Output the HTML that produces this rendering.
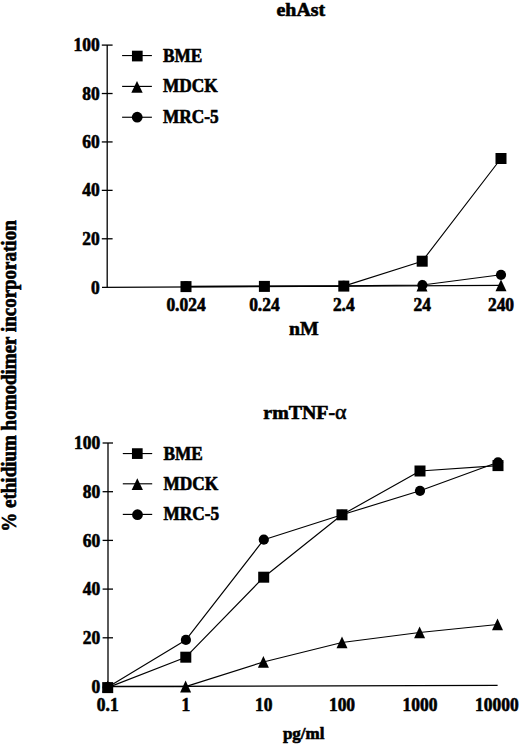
<!DOCTYPE html>
<html><head><meta charset="utf-8"><style>
html,body{margin:0;padding:0;background:#fff;}
body{width:520px;height:744px;overflow:hidden;}
svg{display:block;}
text{font-family:"Liberation Serif",serif;font-weight:bold;fill:#000;stroke:#000;stroke-width:0.6px;}
</style></head><body>
<svg width="520" height="744" viewBox="0 0 520 744">
<line x1="107.2" y1="45.1" x2="107.2" y2="287.7" stroke="#000" stroke-width="1.3"/>
<line x1="101.8" y1="45.1" x2="112.6" y2="45.1" stroke="#000" stroke-width="1.3"/>
<text x="0" y="0" font-size="17.9" text-anchor="end" transform="translate(99.6,51.2) scale(0.975,1)">100</text>
<line x1="101.8" y1="93.52" x2="112.6" y2="93.52" stroke="#000" stroke-width="1.3"/>
<text x="0" y="0" font-size="17.9" text-anchor="end" transform="translate(99.6,99.62) scale(0.975,1)">80</text>
<line x1="101.8" y1="141.94" x2="112.6" y2="141.94" stroke="#000" stroke-width="1.3"/>
<text x="0" y="0" font-size="17.9" text-anchor="end" transform="translate(99.6,148.04) scale(0.975,1)">60</text>
<line x1="101.8" y1="190.36" x2="112.6" y2="190.36" stroke="#000" stroke-width="1.3"/>
<text x="0" y="0" font-size="17.9" text-anchor="end" transform="translate(99.6,196.46) scale(0.975,1)">40</text>
<line x1="101.8" y1="238.78" x2="112.6" y2="238.78" stroke="#000" stroke-width="1.3"/>
<text x="0" y="0" font-size="17.9" text-anchor="end" transform="translate(99.6,244.88) scale(0.975,1)">20</text>
<text x="0" y="0" font-size="17.9" text-anchor="end" transform="translate(99.6,293.5) scale(0.975,1)">0</text>
<line x1="102" y1="287.4" x2="501" y2="285.4" stroke="#000" stroke-width="1.3"/>
<text x="0" y="0" font-size="17.9" text-anchor="middle" transform="translate(186,310.8) scale(0.975,1)">0.024</text>
<text x="0" y="0" font-size="17.9" text-anchor="middle" transform="translate(264.4,310.8) scale(0.975,1)">0.24</text>
<text x="0" y="0" font-size="17.9" text-anchor="middle" transform="translate(343.8,310.8) scale(0.975,1)">2.4</text>
<text x="0" y="0" font-size="17.9" text-anchor="middle" transform="translate(422.2,310.8) scale(0.975,1)">24</text>
<text x="0" y="0" font-size="17.9" text-anchor="middle" transform="translate(501,310.8) scale(0.975,1)">240</text>
<polyline points="186,286.6 264.4,286.4 343.8,286.1 422.2,261.2 501,158.5" fill="none" stroke="#000" stroke-width="1.15" stroke-linejoin="round"/>
<polyline points="186,286.4 264.4,286 343.8,285.8 422.4,285.0 501,274.8" fill="none" stroke="#000" stroke-width="1.15" stroke-linejoin="round"/>
<polygon points="422,279.60 427.50,291.40 416.50,291.40" fill="#000"/>
<polygon points="501,279.40 506.50,291.20 495.50,291.20" fill="#000"/>
<circle cx="186" cy="286.4" r="5.1" fill="#000"/>
<circle cx="264.4" cy="286" r="5.1" fill="#000"/>
<circle cx="343.8" cy="285.8" r="5.1" fill="#000"/>
<circle cx="422.4" cy="285.0" r="5.1" fill="#000"/>
<circle cx="501" cy="274.8" r="5.1" fill="#000"/>
<rect x="180.50" y="281.10" width="11.0" height="11.0" fill="#000"/>
<rect x="258.90" y="280.90" width="11.0" height="11.0" fill="#000"/>
<rect x="338.30" y="280.60" width="11.0" height="11.0" fill="#000"/>
<rect x="416.70" y="255.70" width="11.0" height="11.0" fill="#000"/>
<rect x="495.50" y="153.00" width="11.0" height="11.0" fill="#000"/>
<line x1="122.1" y1="55.55" x2="151.9" y2="55.55" stroke="#000" stroke-width="1.15"/>
<rect x="131.95" y="50.70" width="10.7" height="10.7" fill="#000"/>
<line x1="122.1" y1="86.4" x2="151.9" y2="86.4" stroke="#000" stroke-width="1.15"/>
<polygon points="137.0,81.00 142.70,92.80 131.30,92.80" fill="#000"/>
<line x1="122.1" y1="117.25" x2="151.9" y2="117.25" stroke="#000" stroke-width="1.15"/>
<circle cx="137.2" cy="117.2" r="5.4" fill="#000"/>
<text x="0" y="0" font-size="17.8" text-anchor="start" transform="translate(163,61.9) scale(0.972,1)">BME</text>
<text x="0" y="0" font-size="17.8" text-anchor="start" transform="translate(163,92.3) scale(0.972,1)">MDCK</text>
<text x="0" y="0" font-size="17.8" text-anchor="start" transform="translate(163,123.0) scale(0.972,1)">MRC-5</text>
<text x="0" y="0" font-size="18.6" text-anchor="middle" transform="translate(300.8,15.8) scale(1.07,1)">ehAst</text>
<text x="303.9" y="334.5" font-size="19.8" text-anchor="middle">nM</text>
<line x1="108" y1="443" x2="108" y2="686.5" stroke="#000" stroke-width="1.3"/>
<line x1="102.6" y1="443" x2="113" y2="443" stroke="#000" stroke-width="1.3"/>
<text x="0" y="0" font-size="17.9" text-anchor="end" transform="translate(100.1,449.1) scale(0.975,1)">100</text>
<line x1="102.6" y1="491.7" x2="113" y2="491.7" stroke="#000" stroke-width="1.3"/>
<text x="0" y="0" font-size="17.9" text-anchor="end" transform="translate(100.1,497.8) scale(0.975,1)">80</text>
<line x1="102.6" y1="540.4" x2="113" y2="540.4" stroke="#000" stroke-width="1.3"/>
<text x="0" y="0" font-size="17.9" text-anchor="end" transform="translate(100.1,546.5) scale(0.975,1)">60</text>
<line x1="102.6" y1="589.1" x2="113" y2="589.1" stroke="#000" stroke-width="1.3"/>
<text x="0" y="0" font-size="17.9" text-anchor="end" transform="translate(100.1,595.2) scale(0.975,1)">40</text>
<line x1="102.6" y1="637.8" x2="113" y2="637.8" stroke="#000" stroke-width="1.3"/>
<text x="0" y="0" font-size="17.9" text-anchor="end" transform="translate(100.1,643.9) scale(0.975,1)">20</text>
<text x="0" y="0" font-size="17.9" text-anchor="end" transform="translate(100.3,692.8) scale(0.975,1)">0</text>
<line x1="107.7" y1="686.5" x2="497.6" y2="685.3" stroke="#000" stroke-width="1.3"/>
<text x="0" y="0" font-size="17.9" text-anchor="middle" transform="translate(107.7,710.7) scale(0.975,1)">0.1</text>
<text x="0" y="0" font-size="17.9" text-anchor="middle" transform="translate(185.8,710.7) scale(0.975,1)">1</text>
<text x="0" y="0" font-size="17.9" text-anchor="middle" transform="translate(263.8,710.7) scale(0.975,1)">10</text>
<text x="0" y="0" font-size="17.9" text-anchor="middle" transform="translate(342,710.7) scale(0.975,1)">100</text>
<text x="0" y="0" font-size="17.9" text-anchor="middle" transform="translate(420,710.7) scale(0.975,1)">1000</text>
<text x="0" y="0" font-size="17.9" text-anchor="middle" transform="translate(496.9,710.7) scale(0.975,1)">10000</text>
<polyline points="107.7,687.6 185.8,657.2 263.7,577.2 342,514.8 420,471 498,465.6" fill="none" stroke="#000" stroke-width="1.15" stroke-linejoin="round"/>
<polyline points="107.7,686.5 185.6,686.6 263.4,662 342.0,642.5 419.6,632.5 497.5,624.5" fill="none" stroke="#000" stroke-width="1.15" stroke-linejoin="round"/>
<polyline points="107.7,687.2 185.9,639.9 263.8,539.7 342,514.8 420,490.8 498,462.3" fill="none" stroke="#000" stroke-width="1.15" stroke-linejoin="round"/>
<polygon points="107.7,680.50 113.20,692.30 102.20,692.30" fill="#000"/>
<polygon points="185.6,680.60 191.10,692.40 180.10,692.40" fill="#000"/>
<polygon points="263.4,656.00 268.90,667.80 257.90,667.80" fill="#000"/>
<polygon points="342.0,636.50 347.50,648.30 336.50,648.30" fill="#000"/>
<polygon points="419.6,626.50 425.10,638.30 414.10,638.30" fill="#000"/>
<polygon points="497.5,618.50 503.00,630.30 492.00,630.30" fill="#000"/>
<circle cx="107.7" cy="687.2" r="5.1" fill="#000"/>
<circle cx="185.9" cy="639.9" r="5.1" fill="#000"/>
<circle cx="263.8" cy="539.7" r="5.1" fill="#000"/>
<circle cx="342" cy="514.8" r="5.1" fill="#000"/>
<circle cx="420" cy="490.8" r="5.1" fill="#000"/>
<circle cx="498" cy="462.3" r="5.1" fill="#000"/>
<rect x="102.20" y="682.10" width="11.0" height="11.0" fill="#000"/>
<rect x="180.30" y="651.70" width="11.0" height="11.0" fill="#000"/>
<rect x="258.20" y="571.70" width="11.0" height="11.0" fill="#000"/>
<rect x="336.50" y="509.30" width="11.0" height="11.0" fill="#000"/>
<rect x="414.50" y="465.50" width="11.0" height="11.0" fill="#000"/>
<rect x="492.50" y="460.10" width="11.0" height="11.0" fill="#000"/>
<line x1="122.8" y1="453.55" x2="152.2" y2="453.55" stroke="#000" stroke-width="1.15"/>
<rect x="131.95" y="448.25" width="10.7" height="10.7" fill="#000"/>
<line x1="122.8" y1="483.8" x2="152.2" y2="483.8" stroke="#000" stroke-width="1.15"/>
<polygon points="137.3,478.30 142.95,490.10 131.65,490.10" fill="#000"/>
<line x1="122.8" y1="514.4" x2="152.2" y2="514.4" stroke="#000" stroke-width="1.15"/>
<circle cx="137.5" cy="514.7" r="5.4" fill="#000"/>
<text x="0" y="0" font-size="17.8" text-anchor="start" transform="translate(163.5,459.6) scale(0.972,1)">BME</text>
<text x="0" y="0" font-size="17.8" text-anchor="start" transform="translate(163.5,489.7) scale(0.972,1)">MDCK</text>
<text x="0" y="0" font-size="17.8" text-anchor="start" transform="translate(163.5,519.9) scale(0.972,1)">MRC-5</text>
<text x="0" y="0" font-size="18.6" text-anchor="middle" transform="translate(305,418.5) scale(1.07,1)">rmTNF-<tspan font-weight="normal" font-size="20.6" stroke-width="0.55">&#945;</tspan></text>
<text x="303.7" y="739" font-size="17" text-anchor="middle">pg/ml</text>
<text x="0" y="0" font-size="19" text-anchor="middle" transform="translate(16.2,376) rotate(-90) scale(1,1.05)">% ethidium homodimer incorporation</text>
</svg>
</body></html>
